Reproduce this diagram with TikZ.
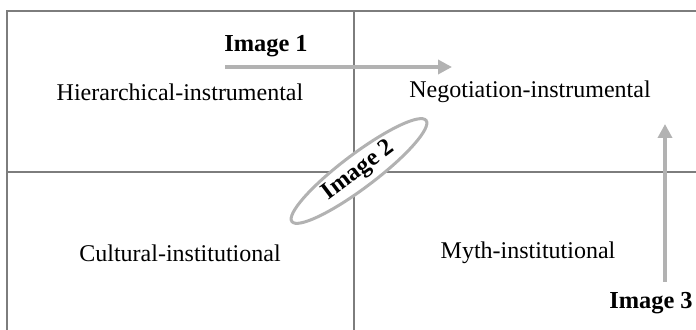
\documentclass[tikz,border=0pt]{standalone}
\usepackage{fontspec}
\setmainfont{Liberation Serif}
\usepackage{tikz}
\usetikzlibrary{shapes.geometric,arrows.meta}

\definecolor{gridgray}{RGB}{125,125,125}
\definecolor{arrowgray}{RGB}{178,178,178}

\begin{document}
\begin{tikzpicture}
		[x=0.5pt,y=-0.5pt,
		 q/.style= {font=\fontsize{12}{14}\selectfont},
		 lab/.style= {font=\fontsize{12.2}{14}\selectfont\bfseries},
		 grid/.style= {draw=gridgray,line width=1pt},
		 mv/.style= {draw=arrowgray,line width=2pt,-{Triangle[length=7pt,width=7pt]}}]

		\useasboundingbox (0,0) rectangle (696,330);

		% quadrant lines
		\draw[grid] (7,330) -- (7,11) -- (696,11);
		\draw[grid] (354,11) -- (354,330);
		\draw[grid] (7,172) -- (696,172);

		\node[q] (hi) at (180,92) {Hierarchical-instrumental}
		;
		\node[q] (ne) at (530,92) {Negotiation-instrumental}
		;
		\node[q] (cu) at (180,253) {Cultural-institutional}
		;
		\node[q] (my) at (528,253) {Myth-institutional}
		;

		% image 1
		\coordinate (a1s) at (225,67);
		\coordinate (a1e) at (452,67);
		\draw[mv] (a1s) -- (a1e);
		\node[lab] (im1) at (266,46) {Image 1}
		;

		% image 2
		\node[lab,ellipse,draw=arrowgray,line width=1.5pt,fill=white,
			rotate=37,minimum width=84pt,minimum height=17pt,inner sep=0pt] (im2) at (359,171) {Image 2}
		;

		% image 3
		\coordinate (a3s) at (665,282);
		\coordinate (a3e) at (665,124);
		\draw[mv] (a3s) -- (a3e);
		\node[lab] (im3) at (651,303) {Image 3}
		;

	\end{tikzpicture}
\end{document}
